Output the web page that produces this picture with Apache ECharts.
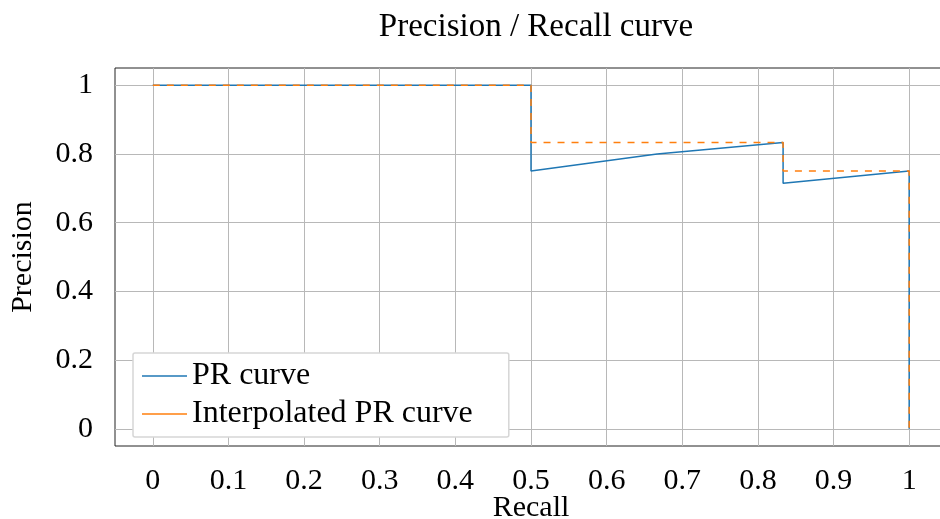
<!DOCTYPE html>
<html>
<head>
<meta charset="utf-8">
<script src="https://cdn.jsdelivr.net/npm/echarts@6/dist/echarts.min.js"></script>
<style>
  html, body { margin: 0; padding: 0; background: #fff; }
  #chart { width: 940px; height: 519px; }
</style>
</head>
<body>
<div id="chart"></div>
<script>
var recall = [0, 0.5, 0.5, 0.6667, 0.8333, 0.8333, 1, 1];
var precision = [1, 1, 0.75, 0.8, 0.8333, 0.7143, 0.75, 0];
var interpRecall = [0, 0.5, 0.5, 0.8333, 0.8333, 1, 1];
var interpPrecision = [1, 1, 0.8333, 0.8333, 0.75, 0.75, 0];
var xTicks = [0, 0.1, 0.2, 0.3, 0.4, 0.5, 0.6, 0.7, 0.8, 0.9, 1];
var yTicks = [0, 0.2, 0.4, 0.6, 0.8, 1];

function pairs(xs, ys) {
  var out = [];
  for (var i = 0; i < xs.length; i++) out.push([xs[i], ys[i]]);
  return out;
}

var font = 'Liberation Serif';
var chart = echarts.init(document.getElementById('chart'));
var option = {
  animation: false,
  title: {
    text: 'Precision / Recall curve',
    left: 531, top: 6, textAlign: 'center',
    textStyle: { fontFamily: font, fontSize: 33, fontWeight: 'normal', color: '#000' }
  },
  legend: {
    orient: 'vertical',
    left: 133, top: 353,
    backgroundColor: '#fff',
    borderColor: '#d6d6d6',
    borderWidth: 1.5,
    borderRadius: 2,
    padding: [7, 36, 7, 9],
    itemGap: 6,
    itemWidth: 45,
    itemHeight: 1.5,
    icon: 'rect',
    textStyle: { fontFamily: font, fontSize: 32, color: '#000' },
    data: ['PR curve', 'Interpolated PR curve']
  },
  grid: {
    left: 115, top: 68, width: 832, height: 378,
    outerBoundsMode: 'none',
    show: true, borderColor: '#222', borderWidth: 1
  },
  xAxis: {
    type: 'value', min: -0.05, max: 1.05,
    name: 'Recall', nameLocation: 'middle', nameGap: 47, nameMoveOverlap: false,
    nameTextStyle: { fontFamily: font, fontSize: 30, color: '#000' },
    axisLine: { show: false },
    axisTick: { show: true, customValues: xTicks, length: 9, lineStyle: { color: '#b8b8b8' } },
    axisLabel: { customValues: xTicks, fontFamily: font, fontSize: 30, color: '#000', margin: 20,
      formatter: function (v) { return String(Math.round(v * 10) / 10); } },
    splitLine: { show: true, lineStyle: { color: '#b8b8b8', width: 1 } }
  },
  yAxis: {
    type: 'value', min: -0.05, max: 1.05,
    name: 'Precision', nameLocation: 'middle', nameGap: 77, nameMoveOverlap: false,
    nameTextStyle: { fontFamily: font, fontSize: 30, color: '#000' },
    axisLine: { show: false },
    axisTick: { show: true, customValues: yTicks, length: 10, lineStyle: { color: '#b8b8b8' } },
    axisLabel: { customValues: yTicks, fontFamily: font, fontSize: 30, color: '#000', margin: 22,
      formatter: function (v) { return String(Math.round(v * 10) / 10); } },
    splitLine: { show: true, lineStyle: { color: '#b8b8b8', width: 1 } }
  },
  series: [
    {
      name: 'PR curve', type: 'line', showSymbol: false, symbol: 'none',
      color: '#1f77b4',
      lineStyle: { width: 1.5, color: '#1f77b4' },
      data: pairs(recall, precision)
    },
    {
      name: 'Interpolated PR curve', type: 'line', showSymbol: false, symbol: 'none',
      color: '#ff7f0e',
      lineStyle: { width: 1.5, color: '#ff7f0e', type: [7, 7] },
      data: pairs(interpRecall, interpPrecision)
    }
  ]
};
chart.setOption(option);
</script>
</body>
</html>
